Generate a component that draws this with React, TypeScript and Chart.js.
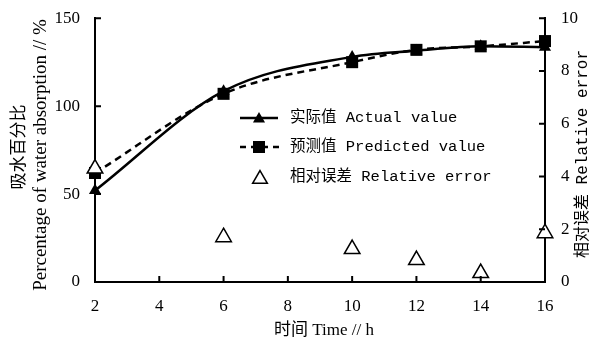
import React, { useEffect, useRef } from 'react';
import { Chart, registerables } from 'chart.js';

Chart.register(...registerables);

const times = [2, 6, 10, 12, 14, 16];
const actualValues = [52, 108.5, 128, 131.5, 134, 133.5];
const predictedValues = [62, 107, 125, 132, 134, 137];
const relativeErrors = [4.3, 1.7, 1.25, 0.83, 0.34, 1.85];

const xTickValues = [2, 4, 6, 8, 10, 12, 14, 16];
const leftTickValues = [0, 50, 100, 150];
const rightTickValues = [0, 2, 4, 6, 8, 10];

const xTitle = '时间 Time // h';
const leftTitleCn = '吸水百分比';
const leftTitleEn = 'Percentage of water absorption // %';
const rightTitle = '相对误差 Relative error';
const legendLabels = ['实际值 Actual value', '预测值 Predicted value', '相对误差 Relative error'];

const SERIF = '"Liberation Serif", "Noto Sans CJK SC", serif';
const MONO = '"Liberation Mono", "Noto Sans CJK SC", monospace';

function triangle(ctx: CanvasRenderingContext2D, x: number, y: number, r: number) {
  ctx.beginPath();
  for (let i = 0; i < 3; i++) {
    const a = (i * 2 * Math.PI) / 3;
    const px = x + Math.sin(a) * r;
    const py = y - Math.cos(a) * r;
    if (i === 0) ctx.moveTo(px, py);
    else ctx.lineTo(px, py);
  }
  ctx.closePath();
}

const decorPlugin = {
  id: 'decor',
  afterDraw(chart: any) {
    const ctx: CanvasRenderingContext2D = chart.ctx;
    const { x, y, y1 } = chart.scales;
    const area = chart.chartArea;
    ctx.save();
    ctx.strokeStyle = '#000';
    ctx.lineWidth = 2;
    // inward ticks
    ctx.beginPath();
    xTickValues.forEach((v) => {
      const px = x.getPixelForValue(v);
      ctx.moveTo(px, area.bottom);
      ctx.lineTo(px, area.bottom - 6);
    });
    leftTickValues.forEach((v) => {
      const py = y.getPixelForValue(v);
      ctx.moveTo(area.left, py);
      ctx.lineTo(area.left + 6, py);
    });
    rightTickValues.forEach((v) => {
      const py = y1.getPixelForValue(v);
      ctx.moveTo(area.right, py);
      ctx.lineTo(area.right - 6, py);
    });
    ctx.stroke();

    // titles
    ctx.fillStyle = '#000';
    ctx.textAlign = 'center';
    ctx.textBaseline = 'middle';
    ctx.font = '17px ' + SERIF;
    ctx.fillText(xTitle, 324, 331);

    ctx.save();
    ctx.translate(18, 147);
    ctx.rotate(-Math.PI / 2);
    ctx.font = '17px "Noto Sans CJK SC", sans-serif';
    ctx.fillText(leftTitleCn, 0, 0);
    ctx.restore();

    ctx.save();
    ctx.translate(41, 155);
    ctx.rotate(-Math.PI / 2);
    ctx.font = '19px ' + SERIF;
    ctx.fillText(leftTitleEn, 0, 0);
    ctx.restore();

    ctx.save();
    ctx.translate(583, 154);
    ctx.rotate(-Math.PI / 2);
    ctx.font = '16px ' + MONO;
    ctx.fillText(rightTitle, 0, 0);
    ctx.restore();

    // legend
    const rows = [118, 147, 177];
    ctx.textAlign = 'left';
    ctx.font = '15.5px ' + MONO;
    legendLabels.forEach((t, i) => ctx.fillText(t, 290, rows[i]));

    ctx.lineWidth = 2.5;
    ctx.beginPath();
    ctx.moveTo(240, rows[0]);
    ctx.lineTo(278, rows[0]);
    ctx.stroke();
    triangle(ctx, 259, rows[0] + 1, 7);
    ctx.fill();

    ctx.setLineDash([6, 5]);
    ctx.beginPath();
    ctx.moveTo(240, rows[1]);
    ctx.lineTo(280, rows[1]);
    ctx.stroke();
    ctx.setLineDash([]);
    ctx.fillRect(253, rows[1] - 6, 12, 12);

    ctx.lineWidth = 1.5;
    ctx.fillStyle = '#fff';
    triangle(ctx, 260, rows[2] + 2, 8.5);
    ctx.fill();
    ctx.stroke();
    ctx.restore();
  },
};

export default function App() {
  const ref = useRef<HTMLCanvasElement | null>(null);
  useEffect(() => {
    if (!ref.current) return;
    const chart = new Chart(ref.current, {
      type: 'line',
      data: {
        datasets: [
          {
            label: 'rel',
            data: times.map((t, i) => ({ x: t, y: relativeErrors[i] })),
            yAxisID: 'y1',
            showLine: false,
            pointStyle: 'triangle',
            pointRadius: 9,
            pointBackgroundColor: '#fff',
            pointBorderColor: '#000',
            pointBorderWidth: 1.5,
            clip: false as any,
            order: 0,
          },
          {
            label: 'pred',
            data: times.map((t, i) => ({ x: t, y: predictedValues[i] })),
            yAxisID: 'y',
            borderColor: '#000',
            borderWidth: 2.5,
            borderDash: [7, 5],
            cubicInterpolationMode: 'monotone',
            pointStyle: 'rect',
            pointRadius: 8.5,
            pointBackgroundColor: '#000',
            pointBorderColor: '#000',
            pointBorderWidth: 0,
            clip: false as any,
            order: 1,
          },
          {
            label: 'actual',
            data: times.map((t, i) => ({ x: t, y: actualValues[i] })),
            yAxisID: 'y',
            borderColor: '#000',
            borderWidth: 2.5,
            cubicInterpolationMode: 'monotone',
            pointStyle: 'triangle',
            pointRadius: 7,
            pointBackgroundColor: '#000',
            pointBorderColor: '#000',
            pointBorderWidth: 0,
            clip: false as any,
            order: 2,
          },
        ],
      },
      options: {
        animation: false,
        responsive: false,
        devicePixelRatio: 1,
        layout: { padding: { top: 17, left: 0, right: 0, bottom: 0 } },
        plugins: { legend: { display: false }, tooltip: { enabled: false } },
        scales: {
          x: {
            type: 'linear',
            position: 'bottom',
            min: 2,
            max: 16,
            afterBuildTicks: (s: any) => {
              s.ticks = xTickValues.map((v) => ({ value: v }));
            },
            afterFit: (s: any) => {
              s.height = 60;
            },
            grid: { display: false },
            border: { display: true, color: '#000', width: 2 },
            ticks: { color: '#000', padding: 6, font: { family: SERIF, size: 17 }, maxRotation: 0, autoSkip: false },
          },
          y: {
            type: 'linear',
            position: 'left',
            min: 0,
            max: 150,
            afterBuildTicks: (s: any) => {
              s.ticks = leftTickValues.map((v) => ({ value: v }));
            },
            afterFit: (s: any) => {
              s.width = 95;
            },
            grid: { display: false },
            border: { display: true, color: '#000', width: 2 },
            ticks: { color: '#000', padding: 7, font: { family: SERIF, size: 17 } },
          },
          y1: {
            type: 'linear',
            position: 'right',
            min: 0,
            max: 10,
            afterBuildTicks: (s: any) => {
              s.ticks = rightTickValues.map((v) => ({ value: v }));
            },
            afterFit: (s: any) => {
              s.width = 53;
            },
            grid: { display: false },
            border: { display: true, color: '#000', width: 2 },
            ticks: { color: '#000', padding: 8, font: { family: SERIF, size: 17 } },
          },
        },
      },
      plugins: [decorPlugin],
    } as any);
    return () => chart.destroy();
  }, []);
  return (
    <div style={{ position: 'absolute', left: 0, top: 0, width: 598, height: 342, background: '#fff' }}>
      <canvas ref={ref} width={598} height={342} style={{ display: 'block' }} />
    </div>
  );
}
